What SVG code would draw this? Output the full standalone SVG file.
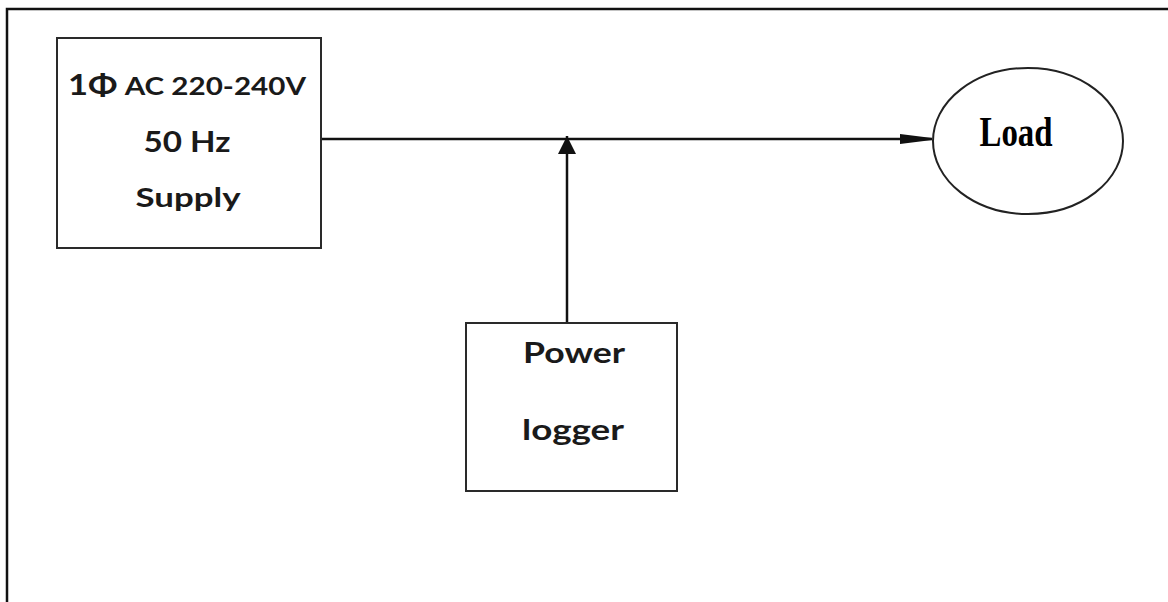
<svg xmlns="http://www.w3.org/2000/svg" width="1168" height="602" viewBox="0 0 1168 602">
  <style>
    .box { fill: #ffffff; stroke: #2a2a2a; stroke-width: 2; }
    .wire { fill: none; stroke: #111111; stroke-width: 2.5; }
    .sans { font-family: Lato, "Liberation Sans", sans-serif; font-weight: bold; fill: #1a1a1a; text-anchor: middle; }
    .serif { font-family: "Liberation Serif", serif; font-weight: bold; fill: #000000; text-anchor: middle; }
  </style>
  <defs>
    <marker id="arrowR" markerUnits="userSpaceOnUse" markerWidth="34" markerHeight="14" refX="32" refY="7" orient="auto">
      <path d="M0,2 L32,6 L32,8 L0,12 Z" fill="#111111"/>
    </marker>
    <marker id="arrowUp" markerUnits="userSpaceOnUse" markerWidth="20" markerHeight="20" refX="18" refY="10" orient="auto">
      <path d="M0,1 L18,10 L0,19 Z" fill="#111111"/>
    </marker>
  </defs>

  <rect x="0" y="0" width="1168" height="602" fill="#ffffff"/>
  <!-- page frame: top and left rules only -->
  <path d="M7,602 V9 H1168" fill="none" stroke="#111111" stroke-width="2.5"/>

  <g id="connectors">
    <line class="wire" x1="318" y1="139" x2="932" y2="139" marker-end="url(#arrowR)"/>
    <line class="wire" x1="567" y1="323" x2="567" y2="136" stroke-width="3" marker-end="url(#arrowUp)"/>
  </g>

  <g id="supply">
    <rect class="box" x="57" y="38" width="264" height="210"/>
    <text class="sans" x="187" y="95" font-size="24" textLength="238" lengthAdjust="spacingAndGlyphs"><tspan font-size="28">1Φ</tspan> AC 220-240V</text>
    <text class="sans" x="187" y="152" font-size="28" textLength="87" lengthAdjust="spacingAndGlyphs">50 Hz</text>
    <text class="sans" x="188" y="207" font-size="27" textLength="105" lengthAdjust="spacingAndGlyphs">Supply</text>
  </g>

  <g id="load">
    <ellipse cx="1028" cy="141" rx="95" ry="73" fill="#ffffff" stroke="#222222" stroke-width="2"/>
    <text class="serif" x="1016" y="146" font-size="42" textLength="73" lengthAdjust="spacingAndGlyphs">Load</text>
  </g>

  <g id="logger">
    <rect class="box" x="466" y="323" width="211" height="168"/>
    <text class="sans" x="574" y="363" font-size="28" textLength="102" lengthAdjust="spacingAndGlyphs">Power</text>
    <text class="sans" x="573" y="440" font-size="28" textLength="102" lengthAdjust="spacingAndGlyphs">logger</text>
  </g>
</svg>
